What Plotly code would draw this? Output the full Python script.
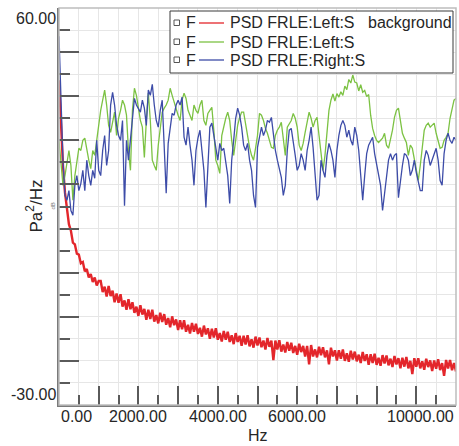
import plotly.graph_objects as go

# ---------------- data ----------------
FREQ_STEP_HZ = 50  # spectrum bin spacing

RED_DB = [
    43.6, 33.4, 24.3, 18.2, 14.4, 11.0, 9.5, 6.8, 6.4, 4.3,
    4.1, 2.1, 2.4, 0.3, 0.8, -1.1, -0.3, -2.1, -1.1, -2.9,
    -1.9, -1.9, -4.4, -3.2, -5.4, -3.0, -5.3, -4.1, -6.7, -4.7,
    -6.8, -4.9, -7.7, -6.3, -8.4, -6.0, -8.3, -6.7, -9.1, -7.7,
    -9.8, -7.4, -9.5, -8.2, -10.7, -8.4, -10.5, -8.4, -11.1, -9.6,
    -11.5, -9.1, -11.2, -9.4, -11.8, -10.3, -12.4, -9.9, -11.9, -10.6,
    -13.0, -10.8, -12.8, -10.8, -13.4, -11.8, -13.8, -11.4, -13.4, -11.6,
    -13.9, -12.5, -14.5, -12.0, -14.0, -12.6, -15.0, -12.7, -14.7, -12.6,
    -15.2, -13.7, -15.6, -13.2, -15.2, -13.4, -15.7, -14.2, -16.2, -13.7,
    -15.7, -14.3, -16.6, -14.3, -16.3, -14.2, -16.7, -15.1, -17.0, -14.5,
    -16.5, -14.7, -16.9, -15.4, -17.4, -14.8, -16.8, -15.4, -19.8, -15.4,
    -17.4, -15.3, -17.9, -16.3, -18.1, -15.7, -17.7, -15.9, -18.2, -16.6,
    -18.6, -16.1, -18.0, -16.6, -19.0, -16.6, -20.8, -16.4, -19.0, -17.4,
    -19.2, -16.8, -18.7, -16.9, -19.2, -17.6, -20.8, -17.0, -19.0, -17.6,
    -19.9, -17.6, -19.5, -17.4, -20.0, -18.3, -20.2, -17.7, -19.7, -17.9,
    -20.1, -18.6, -20.5, -18.0, -20.0, -18.5, -20.9, -18.5, -20.5, -18.4,
    -20.9, -19.3, -21.1, -18.7, -20.6, -18.8, -21.0, -19.5, -21.4, -18.9,
    -20.8, -19.4, -21.7, -19.3, -21.3, -19.1, -21.7, -20.0, -23.0, -19.4,
    -21.3, -19.4, -21.7, -20.1, -22.0, -19.5, -21.4, -19.9, -22.3, -19.9,
    -21.8, -19.6, -22.1, -20.5, -23.4, -19.8, -21.7, -19.8, -22.1, -20.5,
    -22.4,
]

GREEN_DB = [
    30.0, 24.3, 19.8, 22.0, 25.5, 27.7, 24.3, 16.4, 22.0, 25.5,
    28.2, 27.7, 30.0, 30.5, 27.7, 25.5, 23.6, 27.7, 26.6, 30.0,
    34.5, 36.8, 39.1, 41.4, 38.0, 33.4, 31.8, 34.5, 36.4, 31.1,
    35.0, 36.8, 39.1, 38.0, 35.7, 27.7, 23.2, 36.8, 41.8, 40.2,
    36.8, 34.5, 33.0, 26.1, 34.5, 40.7, 34.5, 25.5, 24.3, 23.2,
    28.9, 33.0, 36.4, 37.3, 38.0, 39.1, 41.8, 40.2, 38.6, 37.3,
    35.7, 34.5, 39.1, 40.7, 39.5, 36.8, 35.7, 34.5, 38.0, 36.8,
    36.1, 38.0, 39.1, 34.5, 33.4, 36.1, 36.8, 37.5, 32.3, 25.5,
    24.3, 22.5, 31.1, 33.4, 35.0, 36.4, 34.5, 30.0, 26.6, 30.0,
    33.4, 35.2, 36.4, 36.4, 33.4, 30.5, 28.4, 26.6, 25.5, 28.2,
    31.1, 36.1, 35.7, 34.5, 32.7, 31.6, 30.0, 28.4, 28.2, 31.1,
    32.3, 33.0, 34.1, 30.0, 26.6, 33.0, 33.9, 34.5, 36.1, 35.0,
    33.0, 28.9, 27.7, 29.3, 31.8, 34.5, 36.4, 35.0, 33.0, 34.5,
    35.2, 31.1, 26.6, 23.2, 26.6, 31.1, 36.8, 39.1, 40.5, 38.9,
    40.6, 39.8, 41.0, 40.2, 42.3, 41.5, 43.8, 43.0, 44.8, 43.2,
    43.0, 41.2, 42.6, 40.9, 41.3, 39.9, 40.4, 35.7, 32.7, 31.1,
    30.0, 29.5, 30.0, 30.5, 31.6, 28.9, 28.2, 30.0, 32.3, 35.2,
    36.8, 37.3, 34.5, 31.6, 30.5, 29.5, 26.6, 28.9, 28.2, 25.5,
    22.7, 20.9, 24.3, 28.9, 32.3, 33.4, 33.9, 33.0, 33.4, 33.9,
    31.6, 30.0, 28.2, 28.4, 30.0, 30.7, 31.6, 35.0, 37.3, 39.1,
    39.5,
]

BLUE_DB = [
    53.6, 36.8, 25.5, 17.5, 16.4, 18.6, 14.1, 13.0, 19.8, 22.0,
    18.6, 20.2, 23.2, 18.6, 25.5, 22.0, 19.8, 23.2, 21.4, 30.0,
    23.2, 22.0, 27.7, 31.1, 24.3, 27.7, 38.0, 40.9, 38.0, 33.4,
    31.1, 30.0, 34.5, 15.2, 30.0, 25.5, 30.0, 35.7, 39.5, 38.0,
    37.3, 36.4, 39.1, 37.3, 33.4, 41.4, 40.2, 42.7, 38.0, 34.5,
    33.0, 36.8, 39.1, 27.7, 18.0, 29.3, 33.4, 36.1, 35.7, 38.0,
    39.1, 38.0, 39.8, 30.7, 28.9, 33.0, 28.9, 25.5, 19.8, 27.7,
    30.5, 32.3, 27.7, 23.2, 14.8, 24.3, 33.0, 33.9, 31.1, 28.4,
    25.5, 29.3, 27.7, 28.2, 25.5, 22.0, 15.7, 25.5, 30.0, 35.0,
    37.3, 35.7, 33.0, 28.9, 27.7, 29.3, 25.5, 23.2, 17.5, 14.8,
    28.4, 31.1, 33.0, 31.1, 32.3, 34.5, 34.1, 35.2, 31.1, 27.7,
    25.5, 23.2, 21.6, 17.5, 19.8, 27.7, 32.3, 32.7, 30.0, 26.6,
    23.2, 24.3, 27.0, 25.5, 23.2, 27.7, 30.0, 33.0, 28.4, 22.0,
    16.4, 17.5, 25.5, 23.2, 21.6, 26.6, 29.3, 27.7, 25.5, 21.6,
    27.7, 31.1, 33.4, 34.5, 33.4, 30.7, 32.3, 30.0, 28.9, 33.0,
    31.1, 27.7, 22.5, 16.4, 22.0, 27.0, 28.9, 30.0, 30.7, 27.0,
    24.3, 22.0, 19.8, 14.1, 17.5, 20.9, 25.5, 27.0, 25.5, 26.6,
    27.0, 17.0, 20.9, 24.3, 27.0, 26.6, 25.5, 22.0, 23.2, 25.5,
    22.7, 20.9, 18.6, 18.6, 25.5, 27.7, 26.6, 24.3, 25.5, 27.0,
    28.2, 25.5, 20.9, 19.8, 27.0, 30.0, 31.6, 30.0, 29.3, 30.7,
    30.0,
]

FREQ_HZ = [i * FREQ_STEP_HZ for i in range(len(RED_DB))]

SERIES_NAMES = ["PSD FRLE:Left:S", "PSD FRLE:Left:S", "PSD FRLE:Right:S"]
SERIES_PREFIX = "F"
SERIES_SUFFIX = ["background", "", ""]
X_TICK_VALUES = [0, 2000, 4000, 6000, 10000]
X_TICK_TEXT = ["0.00", "2000.00", "4000.00", "6000.00", "10000.00"]
Y_TICK_VALUES = [60, -30]
Y_TICK_TEXT = ["60.00", "-30.00"]
X_TITLE = "Hz"
Y_TITLE = "Pa<sup>2</sup>/Hz"
Y_UNIT = "dB"

# ---------------- styling ----------------
W, H = 459, 446
ML, MR, MT, MB = 59, 3, 8, 41
PW, PH = W - ML - MR, H - MT - MB
FONT = "Liberation Sans, Arial, sans-serif"
TXT = "#262626"
COLORS = ["#e3262b", "#7cc243", "#3d4ca8"]
WIDTHS = [2.4, 1.3, 1.3]


def px(xp):
    return (xp - ML) / PW


def py(yp):
    return (H - MB - yp) / PH


fig = go.Figure()
for vals, col, w in zip([RED_DB, GREEN_DB, BLUE_DB], COLORS, WIDTHS):
    fig.add_trace(go.Scatter(x=FREQ_HZ, y=vals, mode="lines",
                             line=dict(color=col, width=w), showlegend=False,
                             hoverinfo="skip"))

grid = "#e6e6e6"
fig.update_xaxes(range=[0, 10000], dtick=1000, tick0=0, showticklabels=False,
                 ticks="inside", ticklen=19, tickwidth=1.5, tickcolor="#5a5a5a",
                 showgrid=True, gridcolor=grid, gridwidth=1,
                 showline=True, linecolor="#7a7a7a", linewidth=2, zeroline=False,
                 minor=dict(dtick=500, ticks="inside", ticklen=10, tickwidth=1.5,
                            tickcolor="#5a5a5a", showgrid=True, gridcolor=grid))
fig.update_yaxes(range=[-30, 60], dtick=10, tick0=0, showticklabels=False,
                 ticks="inside", ticklen=20, tickwidth=1.5, tickcolor="#5a5a5a",
                 showgrid=True, gridcolor=grid, gridwidth=1,
                 showline=True, linecolor="#7a7a7a", linewidth=2, zeroline=False,
                 minor=dict(dtick=5, ticks="inside", ticklen=11, tickwidth=1.5,
                            tickcolor="#5a5a5a", showgrid=True, gridcolor=grid))

shapes = []
shapes.append(dict(type="rect", xref="paper", yref="paper", x0=0, x1=1, y0=0, y1=1,
                   line=dict(color="#bdbdbd", width=1.5), layer="above"))
shapes.append(dict(type="rect", xref="paper", yref="paper",
                   x0=px(170), x1=px(453), y0=py(73), y1=py(11),
                   fillcolor="white", line=dict(color="#3a3a3a", width=1), layer="above"))

annotations = []
row_y = [23, 42, 60]
for i, (name, col, suf) in enumerate(zip(SERIES_NAMES, COLORS, SERIES_SUFFIX)):
    yy = row_y[i]
    shapes.append(dict(type="rect", xref="paper", yref="paper",
                       x0=px(174), x1=px(179.5), y0=py(yy + 2.5), y1=py(yy - 3),
                       fillcolor="white", line=dict(color="#555555", width=1), layer="above"))
    shapes.append(dict(type="line", xref="paper", yref="paper",
                       x0=px(199), x1=px(224), y0=py(yy), y1=py(yy),
                       line=dict(color=col, width=1.3), layer="above"))
    annotations.append(dict(text=SERIES_PREFIX, xref="paper", yref="paper",
                            x=px(184), y=py(yy), xanchor="left", yanchor="middle",
                            showarrow=False, font=dict(family=FONT, size=16, color=TXT)))
    annotations.append(dict(text=name, xref="paper", yref="paper",
                            x=px(228), y=py(yy), xanchor="left", yanchor="middle",
                            showarrow=False, font=dict(family=FONT, size=16, color=TXT)))
    if suf:
        annotations.append(dict(text=suf, xref="paper", yref="paper",
                                x=px(366), y=py(yy), xanchor="left", yanchor="middle",
                                showarrow=False, font=dict(family=FONT, size=16, color=TXT)))

for v, t in zip(X_TICK_VALUES, X_TICK_TEXT):
    anchor = "left" if v == 0 else ("right" if v == 10000 else "center")
    annotations.append(dict(text=t, xref="x", yref="paper", x=v, y=0,
                            xanchor=anchor, yanchor="top", yshift=-1, showarrow=False,
                            font=dict(family=FONT, size=16, color=TXT)))
for v, t in zip(Y_TICK_VALUES, Y_TICK_TEXT):
    annotations.append(dict(text=t, xref="paper", yref="y", x=0, y=v,
                            xanchor="right", yanchor="top" if v > 0 else "bottom",
                            xshift=-1, showarrow=False,
                            font=dict(family=FONT, size=16, color=TXT)))
annotations.append(dict(text=X_TITLE, xref="x", yref="paper", x=5000, y=0,
                        yshift=-30, xanchor="center", yanchor="middle", showarrow=False,
                        font=dict(family=FONT, size=16, color=TXT)))
annotations.append(dict(text=Y_TITLE, xref="paper", yref="y", x=0, y=15,
                        xshift=-25, xanchor="center", yanchor="middle", textangle=-90,
                        showarrow=False, font=dict(family=FONT, size=17, color=TXT)))
annotations.append(dict(text=Y_UNIT, xref="paper", yref="y", x=0, y=15,
                        xshift=-7, xanchor="center", yanchor="middle", textangle=-90,
                        showarrow=False, font=dict(family=FONT, size=6, color="#777777")))

fig.update_layout(width=W, height=H, margin=dict(l=ML, r=MR, t=MT, b=MB),
                  paper_bgcolor="white", plot_bgcolor="white",
                  shapes=shapes, annotations=annotations, showlegend=False,
                  font=dict(family=FONT, color=TXT))

fig.write_html("out.html", config={"displayModeBar": False},
               post_script="document.body.style.margin='0';document.body.style.padding='0';")
